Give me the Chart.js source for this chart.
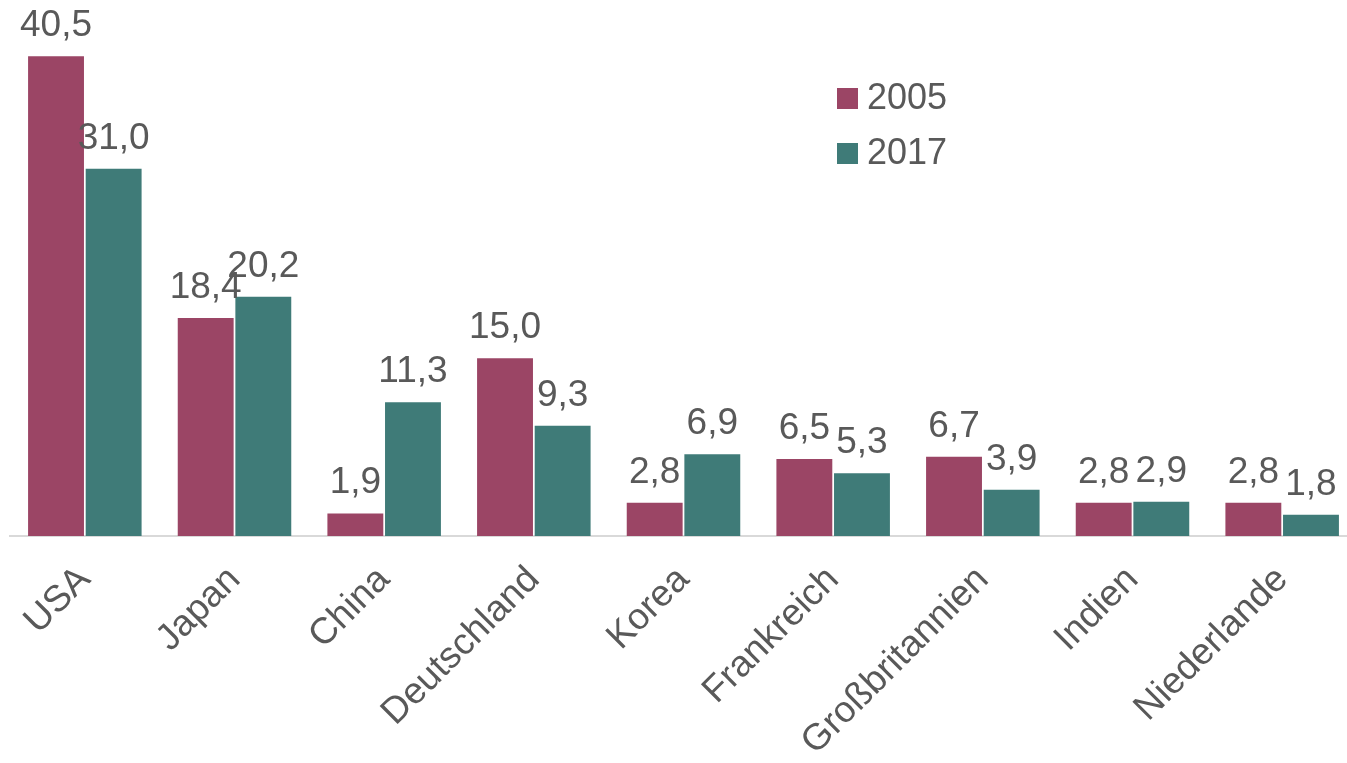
<!DOCTYPE html>
<html>
<head>
<meta charset="utf-8">
<script src="https://cdn.jsdelivr.net/npm/chart.js@4/dist/chart.umd.min.js"></script>
<style>
  html, body { margin: 0; padding: 0; background: #fff; overflow: hidden; }
  #frame { width: 1347px; height: 763px; overflow: hidden; }
  #wrap { width: 1357px; height: 763px; }
</style>
</head>
<body>
<div id="frame"><div id="wrap"><canvas id="chart"></canvas></div></div>
<script>
const countries = ['USA', 'Japan', 'China', 'Deutschland', 'Korea', 'Frankreich', 'Großbritannien', 'Indien', 'Niederlande'];
const years = ['2005', '2017'];
const values2005 = [40.5, 18.4, 1.9, 15.0, 2.8, 6.5, 6.7, 2.8, 2.8];
const values2017 = [31.0, 20.2, 11.3, 9.3, 6.9, 5.3, 3.9, 2.9, 1.8];
const colors = ['#9b4565', '#3f7b78'];

const textColor = '#595959';
const fontFamily = '"Liberation Sans", Arial, sans-serif';

// value labels above each bar (german decimal comma)
const valueLabels = {
    id: 'valueLabels',
    afterDatasetsDraw(chart) {
        const ctx = chart.ctx;
        ctx.save();
        ctx.fillStyle = textColor;
        ctx.font = '37px ' + fontFamily;
        ctx.textAlign = 'center';
        ctx.textBaseline = 'alphabetic';
        chart.data.datasets.forEach((ds, i) => {
            chart.getDatasetMeta(i).data.forEach((bar, j) => {
                const txt = ds.data[j].toFixed(1).replace('.', ',');
                ctx.fillText(txt, bar.x, bar.y - 20);
            });
        });
        ctx.restore();
    }
};

// legend drawn inside the plot, upper middle
const insideLegend = {
    id: 'insideLegend',
    afterDraw(chart) {
        const ctx = chart.ctx;
        ctx.save();
        ctx.font = '36px ' + fontFamily;
        ctx.textBaseline = 'middle';
        chart.data.datasets.forEach((ds, i) => {
            const cy = 98 + i * 55;
            ctx.fillStyle = ds.backgroundColor;
            ctx.fillRect(837, cy - 10, 21, 21);
            ctx.fillStyle = textColor;
            ctx.fillText(ds.label, 867, cy + 1);
        });
        ctx.restore();
    }
};

new Chart(document.getElementById('chart'), {
    type: 'bar',
    data: {
        labels: countries,
        datasets: [
            { label: years[0], data: values2005, backgroundColor: colors[0] },
            { label: years[1], data: values2017, backgroundColor: colors[1] }
        ]
    },
    options: {
        responsive: true,
        maintainAspectRatio: false,
        animation: false,
        layout: { padding: { left: 10, right: 0, top: 3, bottom: 0 } },
        datasets: {
            bar: { categoryPercentage: 0.77, barPercentage: 0.97 }
        },
        plugins: {
            legend: { display: false },
            tooltip: { enabled: false }
        },
        scales: {
            x: {
                grid: { display: false },
                border: { display: true, color: '#d9d9d9', width: 2 },
                ticks: {
                    color: textColor,
                    font: { family: fontFamily, size: 37 },
                    minRotation: 45,
                    maxRotation: 45,
                    padding: 14
                },
                afterFit(scale) { scale.height = 227; }
            },
            y: {
                display: false,
                min: 0,
                max: 45
            }
        }
    },
    plugins: [valueLabels, insideLegend]
});
</script>
</body>
</html>
